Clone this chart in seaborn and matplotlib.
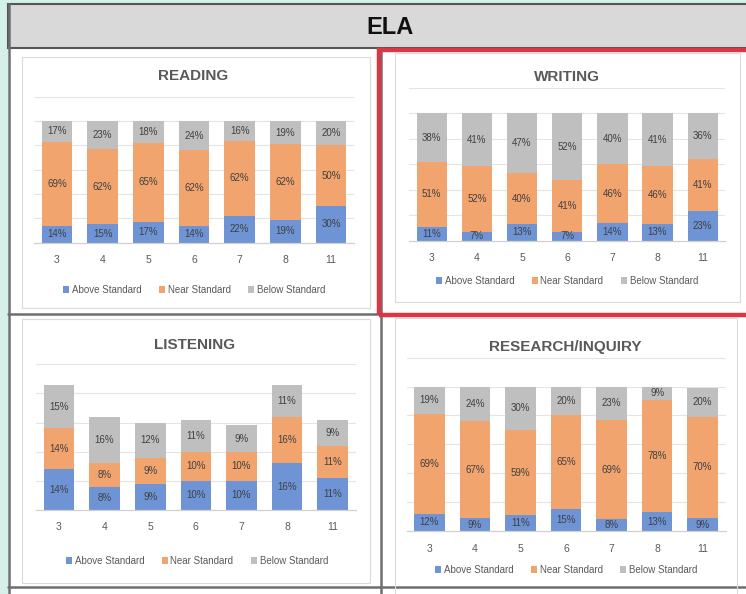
import numpy as np
import pandas as pd
import matplotlib
matplotlib.use('Agg')
import matplotlib.pyplot as plt
from matplotlib.patches import Rectangle, Patch
from matplotlib.lines import Line2D
import seaborn as sns

# data (percent of students by grade)
grades = ['3', '4', '5', '6', '7', '8', '11']
series_names = ['Above Standard', 'Near Standard', 'Below Standard']

reading_above = [14, 15, 17, 14, 22, 19, 30]
reading_near = [69, 62, 65, 62, 62, 62, 50]
reading_below = [17, 23, 18, 24, 16, 19, 20]

writing_above = [11, 7, 13, 7, 14, 13, 23]
writing_near = [51, 52, 40, 41, 46, 46, 41]
writing_below = [38, 41, 47, 52, 40, 41, 36]

listening_above = [14, 8, 9, 10, 10, 16, 11]
listening_near = [14, 8, 9, 10, 10, 16, 11]
listening_below = [15, 16, 12, 11, 9, 11, 9]

research_above = [12, 9, 11, 15, 8, 13, 9]
research_near = [69, 67, 59, 65, 69, 78, 70]
research_below = [19, 24, 30, 20, 23, 9, 20]

sns.set_theme(style='white')
plt.rcParams['font.family'] = ['Liberation Sans', 'DejaVu Sans']

BLUE = '#6F94D6'
ORANGE = '#F2A46F'
GRAY = '#BFBFBF'
TXT = '#404040'
colors = [BLUE, ORANGE, GRAY]

W, H = 746, 594
fig = plt.figure(figsize=(W / 100, H / 100), dpi=100)
fig.patch.set_facecolor('#D5F0E9')


def px_rect(x0, y0, x1, y1, **kw):
    # rectangle in pixel coords (origin top-left)
    r = Rectangle((x0 / W, 1 - y1 / H), (x1 - x0) / W, (y1 - y0) / H,
                  transform=fig.transFigure, **kw)
    fig.patches.append(r)


def px_line(xs, ys, **kw):
    fig.lines.append(Line2D([x / W for x in xs], [1 - y / H for y in ys],
                            transform=fig.transFigure, **kw))


# table background and header
px_rect(8, 4, 760, 600, facecolor='white', edgecolor='none', zorder=-1)
px_rect(8, 4, 760, 48, facecolor='#D9D9D9', edgecolor='#555555', lw=1.5, zorder=1)
fig.text(390 / W, 1 - 27 / H, 'ELA', ha='center', va='center', fontsize=17,
         fontweight='bold', color='#111111')

# table grid lines
line_kw = dict(color='#6E6E6E', lw=1.8, zorder=2)
px_line([8.5, 8.5], [4, 594], **line_kw)
px_line([381.5, 381.5], [48, 594], **line_kw)
px_line([8, 381], [314, 314], **line_kw)
px_line([8, 746], [587, 587], **line_kw)

# light chart frames
frame_kw = dict(facecolor='none', edgecolor='#DADADA', lw=0.8, zorder=2)
px_rect(22, 57, 370, 308, **frame_kw)
px_rect(395, 53, 740, 302, **frame_kw)
px_rect(22, 319, 370, 583, **frame_kw)
px_rect(395, 318, 737, 596, **frame_kw)

panels = [
    # title, data, axes px (x0, x1, ytop, ybottom), ymax, title pos, legend pos
    ('READING', (reading_above, reading_near, reading_below),
     (34.2, 353.8, 96.7, 242.7), 120, (193, 76), (194, 290)),
    ('WRITING', (writing_above, writing_near, writing_below),
     (409.1, 725.3, 88.0, 240.7), 120, (567, 77), (567, 281)),
    ('LISTENING', (listening_above, listening_near, listening_below),
     (36.2, 355.5, 364.3, 510.0), 50, (195, 345), (197, 561)),
    ('RESEARCH/INQUIRY', (research_above, research_near, research_below),
     (406.5, 725.5, 357.7, 531.0), 120, (565, 347), (566, 570)),
]

for title, (above, near, below), (x0, x1, yt, yb), ymax, tpos, lpos in panels:
    rect = [x0 / W, 1 - yb / H, (x1 - x0) / W, (yb - yt) / H]
    step = 20 if ymax > 50 else 10

    # background axes holding only the gridlines
    gax = fig.add_axes(rect)
    gax.set_zorder(2.5)
    gax.set_facecolor('none')
    gax.set_xlim(0, 1)
    gax.set_ylim(0, ymax)
    for yv in np.arange(step, ymax + 1, step):
        gax.axhline(yv, color='#E4E4E4', lw=0.8)
    gax.axis('off')

    ax = fig.add_axes(rect)
    ax.set_zorder(3)
    ax.set_facecolor('none')
    df = pd.DataFrame({'grade': grades, 'above': above, 'near': near, 'below': below})
    df['c1'] = df['above']
    df['c2'] = df['above'] + df['near']
    df['c3'] = df['c2'] + df['below']

    # stacked bars: draw cumulative totals from top layer down
    for col, c in zip(['c3', 'c2', 'c1'], [GRAY, ORANGE, BLUE]):
        sns.barplot(data=df, x='grade', y=col, order=grades, color=c,
                    saturation=1, width=0.67, errorbar=None, linewidth=0, ax=ax)

    # segment labels
    for i in range(len(grades)):
        bottoms = [0, df['c1'][i], df['c2'][i]]
        vals = [df['above'][i], df['near'][i], df['below'][i]]
        for b, v in zip(bottoms, vals):
            ax.text(i, b + v / 2, f'{v}%', ha='center', va='center',
                    fontsize=7, color=TXT, zorder=4)

    ax.set_xlim(-0.5, len(grades) - 0.5)
    ax.set_ylim(0, ymax)
    ax.grid(False)
    ax.set_yticks([])
    ax.set_xlabel('')
    ax.set_ylabel('')
    for s in ['top', 'right', 'left']:
        ax.spines[s].set_visible(False)
    ax.spines['bottom'].set_color('#D0D0D0')
    ax.spines['bottom'].set_linewidth(0.9)
    ax.tick_params(axis='x', length=0, pad=9, labelsize=7.5, labelcolor='#595959')

    fig.text(tpos[0] / W, 1 - tpos[1] / H, title, ha='center', va='center',
             fontsize=11, fontweight='bold', color='#595959')

    handles = [Patch(facecolor=c, edgecolor='none') for c in colors]
    fig.legend(handles, series_names, loc='center',
               bbox_to_anchor=(lpos[0] / W, 1 - lpos[1] / H), ncol=3,
               frameon=False, fontsize=7, labelcolor='#595959',
               handlelength=0.6, handleheight=0.6, handletextpad=0.3,
               columnspacing=1.8, borderpad=0)

# red highlight box around WRITING
px_rect(379, 50, 760, 315, facecolor='none', edgecolor='#DC3545', lw=3.2, zorder=5)

fig.savefig('out.png', dpi=100)
